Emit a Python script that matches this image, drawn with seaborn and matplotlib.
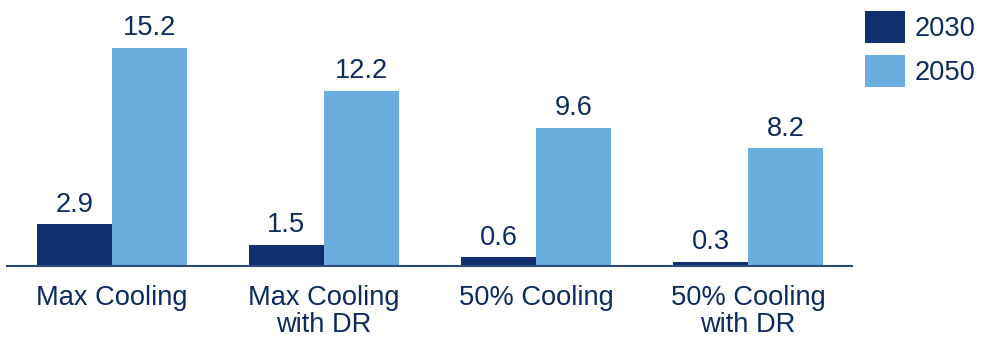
import matplotlib
matplotlib.use("Agg")
import matplotlib.pyplot as plt
import pandas as pd
import seaborn as sns

# Scenario categories and values for each year
scenarios = ["Max Cooling", "Max Cooling\nwith DR", "50% Cooling", "50% Cooling\nwith DR"]
years = ["2030", "2050"]
values_2030 = [2.9, 1.5, 0.6, 0.3]
values_2050 = [15.2, 12.2, 9.6, 8.2]

colors = {"2030": "#12306f", "2050": "#6aaee0"}
text_color = "#0c2b5e"
font_size = 19.6

df = pd.DataFrame({
    "scenario": scenarios * 2,
    "year": [years[0]] * len(scenarios) + [years[1]] * len(scenarios),
    "value": values_2030 + values_2050,
})

sns.set_theme(style="white")
plt.rcParams["font.family"] = ["Liberation Sans", "DejaVu Sans"]

fig = plt.figure(figsize=(9.81, 3.42), dpi=100)
ax = fig.add_axes([0.0071, 0.222, 0.8614, 0.778])

sns.barplot(data=df, x="scenario", y="value", hue="year", order=scenarios,
            hue_order=years, palette=colors, width=0.71, gap=0,
            saturation=1, linewidth=0, ax=ax, legend=True, errorbar=None)

for container in ax.containers:
    ax.bar_label(container, fmt="%.1f", padding=5, fontsize=font_size,
                 color=text_color)

ax.set_ylim(0, 18.55)
ax.set_xlim(-0.495, 3.49)
ax.set_xlabel("")
ax.set_ylabel("")
ax.set_yticks([])
for side in ["left", "right", "top"]:
    ax.spines[side].set_visible(False)
ax.spines["bottom"].set_color("#2e4a7a")
ax.spines["bottom"].set_linewidth(1.5)
ax.tick_params(axis="x", length=0, pad=13.5, labelsize=font_size,
               labelcolor=text_color)
for lbl in ax.get_xticklabels():
    lbl.set_linespacing(1.05)

handles, labels = ax.get_legend_handles_labels()
ax.get_legend().remove()
fig.legend(handles, labels, loc="upper left", bbox_to_anchor=(0.882, 0.968),
           frameon=False, fontsize=font_size, labelcolor=text_color,
           handlelength=1.47, handleheight=1.42, handletextpad=0.33,
           labelspacing=0.45, borderpad=0, borderaxespad=0)

fig.savefig("out.png", dpi=100)
